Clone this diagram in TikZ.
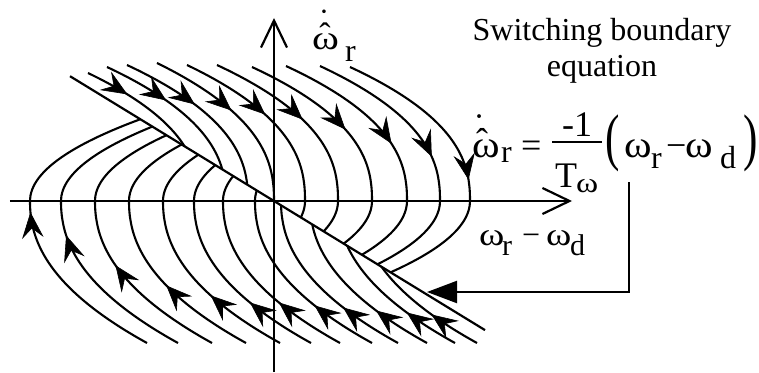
\documentclass[tikz,border=0pt]{standalone}
\usepackage{fontspec}
\usepackage{graphicx}
\setmainfont{Liberation Serif}
\usetikzlibrary{arrows.meta}
\newcommand{\fsz}[1]{\fontsize{#1}{#1}\selectfont}
\newcommand{\wom}{\scalebox{1.2}[1]{ω}}
\newcommand{\wome}{\scalebox{1.1}[1]{ω}}
\begin{document}
\begin{tikzpicture}[x=1pt,y=1pt,
  traj/.style={line width=2.1pt, line join=round},
  axisline/.style={line width=2.2pt, -{Straight Barb[length=27pt,width=26pt]}},
  dart/.style={fill=black, draw=black, line width=0.6pt, line join=miter},
  txt/.style={inner sep=0pt, anchor=base west},
  acc/.style={inner sep=0pt, anchor=base},
  bline/.style={line width=2.2pt}]
\useasboundingbox (-274,-171) rectangle (485,201);

% axes
\coordinate (yb) at (0,-171);
\coordinate (yt) at (0,183);
\coordinate (xl) at (-264,0);
\coordinate (xr) at (298,0);
\draw[axisline] (yb) -- (yt);
\draw[axisline] (xl) -- (xr);

% switching line
\coordinate (sA) at (-204,124.8);
\coordinate (sB) at (211,-129.1);
\draw[bline] (sA) -- (sB);

% top family, ending on the line in the upper-left quadrant
\foreach \c/\A/\Ys/\Ye in {-75/111/128/54.4, -48/119/134/31.7, -26/121/136/16.4, 0/117/138/0.01}{
  \draw[traj] plot[smooth, samples=30, domain=\Ys:\Ye, variable=\t]
    ({\c-\A*pow(\t/\Ys,2.4)},{\t});
}
% top family with vertex on the positive x axis
\foreach \c/\A/\Ys/\Yl in {31/118/136/-16.4, 64/121/136/-30.4, 98/120/134/-42.6, 133/121/135/-53.8, 166/120/135/-63.3, 196/120/134/-71.4}{
  \draw[traj] plot[smooth, samples=30, domain=\Ys:0.01, variable=\t]
    ({\c-\A*pow(\t/\Ys,2.4)},{\t})
    -- plot[smooth, samples=15, domain=0:\Yl, variable=\t]
    ({\c-0.0156*\t*\t},{\t});
}
% top family arrowheads (pointing along the motion, down and right)
\foreach \c/\A/\Ys/\Ya in {-75/111/128/107, -48/119/134/101, -26/121/136/97, 0/117/138/91, 31/118/136/87, 64/121/136/82, 98/120/134/72, 133/121/135/58, 166/120/135/45, 196/120/134/22}{
  \pgfmathsetmacro\slp{2.4*\A/\Ys*pow(\Ya/\Ys,1.4)}
  \pgfmathsetmacro\xa{\c-\A*pow(\Ya/\Ys,2.4)}
  \pgfmathsetmacro\ang{atan2(-1,\slp)}
  \fill[dart, shift={(\xa,\Ya)}, rotate=\ang]
    (0,0) -- (-24,10) -- (-15,0) -- (-24,-10) -- cycle;
}

% bottom family with vertex on the negative x axis
\foreach \c/\Yu in {-244/81.8, -213/74.4, -179/65.8, -145/56.5, -111/46.3, -80/35.9, -51/24.9, -19/10.5}{
  \draw[traj] plot[smooth, samples=30, domain=-142:-0.01, variable=\t]
    ({\c+117*pow(abs(\t)/142,2.2)},{\t})
    -- plot[smooth, samples=15, domain=0:\Yu, variable=\t]
    ({\c+0.0165*\t*\t},{\t});
}
% bottom family ending on the line in the lower-right quadrant
\foreach \c/\Ye in {7/-4.3, 36/-23.4, 64/-44.7, 86/-65.7}{
  \draw[traj] plot[smooth, samples=30, domain=-142:\Ye, variable=\t]
    ({\c+117*pow(abs(\t)/142,2.2)},{\t});
}
% bottom family arrowheads (pointing along the motion, up and left)
\foreach \c/\Ya in {-244/-12, -213/-35, -179/-65, -145/-85, -111/-95, -80/-102, -51/-102, -19/-105, 7/-107, 36/-110, 64/-112, 86/-114}{
  \pgfmathsetmacro\slp{1.8127*pow(abs(\Ya)/142,1.2)}
  \pgfmathsetmacro\xa{\c+117*pow(abs(\Ya)/142,2.2)}
  \pgfmathsetmacro\ang{atan2(1,-\slp)}
  \fill[dart, shift={(\xa,\Ya)}, rotate=\ang]
    (0,0) -- (-24,10) -- (-15,0) -- (-24,-10) -- cycle;
}

% callout
\coordinate (cTop) at (355,19);
\coordinate (cBend) at (355,-91);
\coordinate (cTip) at (153,-91);
\draw[bline, -{Triangle[length=30pt,width=22pt]}] (cTop) -- (cBend) -- (cTip);

% vertical axis label
\node[txt, font=\fsz{34}] (vw) at (38,151) {\wom};
\node[acc, font=\fsz{34}] (vhat) at (51,154) {ˆ};
\node[acc, font=\fsz{34}] (vdot) at (50,168) {˙};
\node[txt, font=\fsz{32}] (vr) at (71,139) {r};

% horizontal axis label
\node[txt, font=\fsz{32}] (hw1) at (205,-44) {\wom};
\node[txt, font=\fsz{30}] (hr) at (228,-54) {r};
\node[txt, font=\fsz{32}] (hm) at (248,-44) {−};
\node[txt, font=\fsz{32}] (hw2) at (272,-44) {\wom};
\node[txt, font=\fsz{30}] (hd) at (296,-54) {d};

% title
\node[acc, font=\fsz{32}] (t1) at (328,160) {Switching boundary};
\node[acc, font=\fsz{32}] (t2) at (328,124) {equation};

% equation
\node[txt, font=\fsz{38}] (ew) at (198,44) {\wome};
\node[acc, font=\fsz{36}] (ehat) at (208,48) {ˆ};
\node[acc, font=\fsz{36}] (edot) at (205,63) {˙};
\node[txt, font=\fsz{32}] (er) at (227,38) {r};
\node[txt, font=\fsz{36}] (eq) at (247,44) {=};
\node[acc, font=\fsz{36}] (num) at (303,64) {-1};
\coordinate (barL) at (278,59);
\coordinate (barR) at (328,59);
\draw[line width=2pt] (barL) -- (barR);
\node[txt, font=\fsz{36}] (den) at (281,14) {T};
\node[txt, font=\fsz{28}] (denw) at (302,9) {\wom};
\node[txt, font=\fsz{36}] (lp) at (331,42) {\scalebox{1.2}[1.75]{(}};
\node[txt, font=\fsz{38}] (ew2) at (350,44) {\wome};
\node[txt, font=\fsz{32}] (er2) at (377,33) {r};
\node[txt, font=\fsz{36}] (em) at (392,44) {−};
\node[txt, font=\fsz{38}] (ew3) at (411,44) {\wome};
\node[txt, font=\fsz{32}] (ed) at (446,33) {d};
\node[txt, font=\fsz{36}] (rp) at (469,42) {\scalebox{1.2}[1.75]{)}};
\end{tikzpicture}
\end{document}
